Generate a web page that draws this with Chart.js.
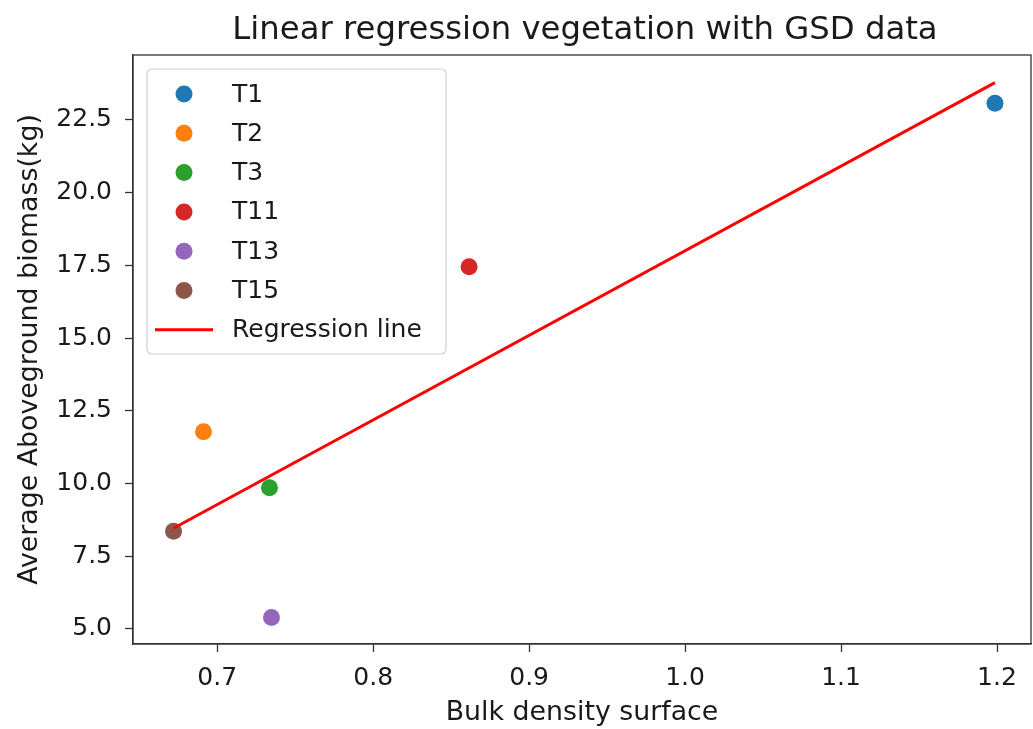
<!DOCTYPE html>
<html>
<head>
<meta charset="utf-8">
<script src="https://cdn.jsdelivr.net/npm/chart.js@4.4.1/dist/chart.umd.min.js"></script>
<style>
  html, body { margin: 0; padding: 0; background: #fff; }
  #wrap { width: 1033px; height: 729px; }
</style>
</head>
<body>
<div id="wrap"><canvas id="regChart" width="1033" height="729"></canvas></div>
<script>
// values
const seriesLabels = ['T1', 'T2', 'T3', 'T11', 'T13', 'T15'];
const bulkDensity = [1.1987, 0.6912, 0.7335, 0.8615, 0.7348, 0.6720];
const biomass = [23.07, 11.78, 9.85, 17.45, 5.39, 8.36];
const lineX = [0.6720, 1.1987];
const lineY = [8.46, 23.78];
const xTicks = [0.7, 0.8, 0.9, 1.0, 1.1, 1.2];
const yTicks = [5.0, 7.5, 10.0, 12.5, 15.0, 17.5, 20.0, 22.5];

const palette = ['#1f77b4', '#ff7f0e', '#2ca02c', '#d62728', '#9467bd', '#8c564b'];
const FONT = 'DejaVu Sans';
const textColor = '#1a1a1a';

const datasets = seriesLabels.map((name, i) => ({
    type: 'scatter',
    label: name,
    data: [{ x: bulkDensity[i], y: biomass[i] }],
    backgroundColor: palette[i],
    borderColor: palette[i],
    pointRadius: 8.5,
    pointBorderWidth: 0,
    order: 1
}));
datasets.push({
    type: 'line',
    label: 'Regression line',
    data: lineX.map((x, i) => ({ x: x, y: lineY[i] })),
    borderColor: '#ff0000',
    backgroundColor: '#ff0000',
    borderWidth: 3,
    pointRadius: 0,
    fill: false,
    order: 0
});

// matplotlib-ish frame, title and legend box
const framePlugin = {
    id: 'frame',
    afterDraw(chart) {
        const ctx = chart.ctx;
        const a = chart.chartArea;
        ctx.save();
        ctx.strokeStyle = '#333';
        ctx.lineWidth = 1.3;
        ctx.strokeRect(a.left, a.top, a.right - a.left, a.bottom - a.top);

        ctx.fillStyle = textColor;
        ctx.font = '32.3px "' + FONT + '"';
        ctx.textAlign = 'center';
        ctx.textBaseline = 'middle';
        ctx.fillText('Linear regression vegetation with GSD data', (a.left + a.right) / 2 + 3, 31);

        // legend
        const bx = a.left + 14, by = a.top + 14, bw = 299, bh = 285;
        ctx.beginPath();
        ctx.roundRect(bx, by, bw, bh, 5);
        ctx.fillStyle = 'rgba(255,255,255,0.85)';
        ctx.fill();
        ctx.strokeStyle = '#d0d0d0';
        ctx.lineWidth = 1.2;
        ctx.stroke();

        const rowH = 39.3;
        const markX = a.left + 51;
        const textX = a.left + 99;
        ctx.font = '25px "' + FONT + '"';
        ctx.textAlign = 'left';
        chart.data.datasets.forEach((ds, i) => {
            const cy = a.top + 39 + i * rowH;
            if (ds.type === 'line') {
                ctx.beginPath();
                ctx.moveTo(a.left + 22, cy);
                ctx.lineTo(a.left + 80, cy);
                ctx.strokeStyle = ds.borderColor;
                ctx.lineWidth = 3;
                ctx.stroke();
            } else {
                ctx.beginPath();
                ctx.arc(markX, cy, 8.5, 0, Math.PI * 2);
                ctx.fillStyle = ds.backgroundColor;
                ctx.fill();
            }
            ctx.fillStyle = textColor;
            ctx.fillText(ds.label, textX, cy + 1);
        });
        ctx.restore();
    }
};

const chartContext = document.getElementById('regChart').getContext('2d');
const regChart = new Chart(chartContext, {
    type: 'scatter',
    data: { datasets: datasets },
    options: {
        responsive: false,
        animation: false,
        layout: { autoPadding: false, padding: { top: 55, right: 2, bottom: 0, left: 0 } },
        plugins: {
            legend: { display: false },
            title: { display: false },
            tooltip: { enabled: false }
        },
        scales: {
            x: {
                type: 'linear',
                min: 0.646,
                max: 1.2218,
                afterFit(scale) {
                    scale.height = 85;
                    scale.paddingLeft = 0;
                    scale.paddingRight = 0;
                },
                afterBuildTicks(scale) { scale.ticks = xTicks.map(v => ({ value: v })); },
                grid: { drawOnChartArea: false, drawTicks: true, tickLength: 8, tickColor: '#333', tickWidth: 1.3 },
                border: { display: true, color: '#333', width: 1.3 },
                ticks: {
                    color: textColor,
                    padding: 11,
                    maxRotation: 0,
                    font: { family: FONT, size: 25 },
                    callback: v => Number(v).toFixed(1)
                },
                title: {
                    display: true,
                    text: 'Bulk density surface',
                    color: textColor,
                    font: { family: FONT, size: 26.8 },
                    padding: { top: 0, bottom: 0 }
                }
            },
            y: {
                type: 'linear',
                min: 4.48,
                max: 24.73,
                afterFit(scale) {
                    scale.width = 133;
                    scale.paddingTop = 0;
                    scale.paddingBottom = 0;
                },
                afterBuildTicks(scale) { scale.ticks = yTicks.map(v => ({ value: v })); },
                grid: { drawOnChartArea: false, drawTicks: true, tickLength: 8, tickColor: '#333', tickWidth: 1.3 },
                border: { display: true, color: '#333', width: 1.3 },
                ticks: {
                    color: textColor,
                    padding: 13,
                    font: { family: FONT, size: 25 },
                    callback: v => Number(v).toFixed(1)
                },
                title: {
                    display: true,
                    text: 'Average Aboveground biomass(kg)',
                    color: textColor,
                    font: { family: FONT, size: 26.8 },
                    padding: { top: 14, bottom: 0 }
                }
            }
        }
    },
    plugins: [framePlugin]
});
</script>
</body>
</html>
